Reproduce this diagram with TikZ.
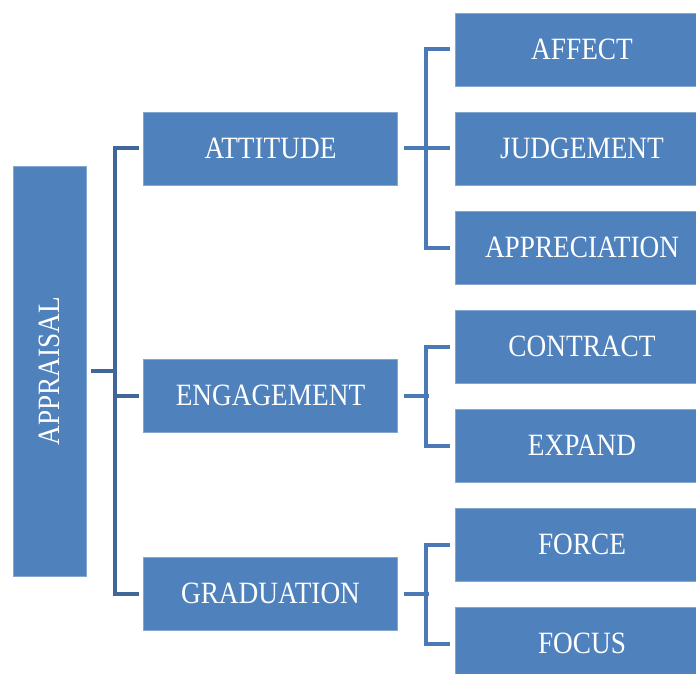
\documentclass[tikz,border=0pt]{standalone}
\usepackage{fontspec}
\setmainfont{Liberation Serif}[FakeStretch=0.88]
\usepackage{tikz}
\usetikzlibrary{shapes,arrows}
\definecolor{boxblue}{HTML}{4F81BD}
\definecolor{darklink}{HTML}{41669A}
\definecolor{lightlink}{HTML}{4A7AB5}
\tikzstyle{block} = [rectangle, draw=boxblue!70!white, line width=0.6pt, fill=boxblue, text=white, inner sep=0pt, minimum width=254pt, minimum height=73pt, font=\fontsize{31}{36}\selectfont]
\tikzstyle{tall} = [block, minimum width=73pt, minimum height=410pt]
\tikzstyle{spine} = [draw=darklink, line width=4pt, line join=miter]
\tikzstyle{branch} = [draw=lightlink, line width=4pt, line join=miter]

\begin{document}
\begin{tikzpicture}[x=1pt, y=-1pt, node distance = 99pt]
      \useasboundingbox (0,0) rectangle (696,674);
      \clip (0,0) rectangle (696,674);
      % root and middle column
      \node [tall] (appraisal) at (49.5,371) {\rotatebox{90}{APPRAISAL}};
      \node [block] (attitude) at (270.5,148.5) {ATTITUDE};
      \node [block] (engagement) at (270.5,395.5) {ENGAGEMENT};
      \node [block] (graduation) at (270.5,593.5) {GRADUATION};
      % right column
      \node [block] (affect) at (582,49.5) {AFFECT};
      \node [block, below of=affect] (judgement) {JUDGEMENT};
      \node [block, below of=judgement] (appreciation) {APPRECIATION};
      \node [block, below of=appreciation] (contract) {CONTRACT};
      \node [block, below of=contract] (expand) {EXPAND};
      \node [block, below of=expand] (force) {FORCE};
      \node [block, below of=force] (focus) {FOCUS};
      \coordinate (rootjoin) at (116.5,371);

      \path [spine] ([xshift=5]appraisal.east) -- (rootjoin);
      \path [spine] ([xshift=-4.5]attitude.west) -- ++(-24,0) |- ([xshift=-4.5]graduation.west);
      \path [spine] ([xshift=-4.5]engagement.west) -- ++(-26,0);

      \path [branch] ([xshift=6]attitude.east) -- ++(25,0);
      \path [branch] ([xshift=-5]affect.west) -- ++(-24,0) |- ([xshift=-5]appreciation.west);
      \path [branch] ([xshift=-5]judgement.west) -- ++(-26,0);
      \path [branch] ([xshift=6]engagement.east) -- ++(25,0);
      \path [branch] ([xshift=-5]contract.west) -- ++(-24,0) |- ([xshift=-5]expand.west);
      \path [branch] ([xshift=6]graduation.east) -- ++(25,0);
      \path [branch] ([xshift=-5]force.west) -- ++(-24,0) |- ([xshift=-5]focus.west);
    \end{tikzpicture}
\end{document}
